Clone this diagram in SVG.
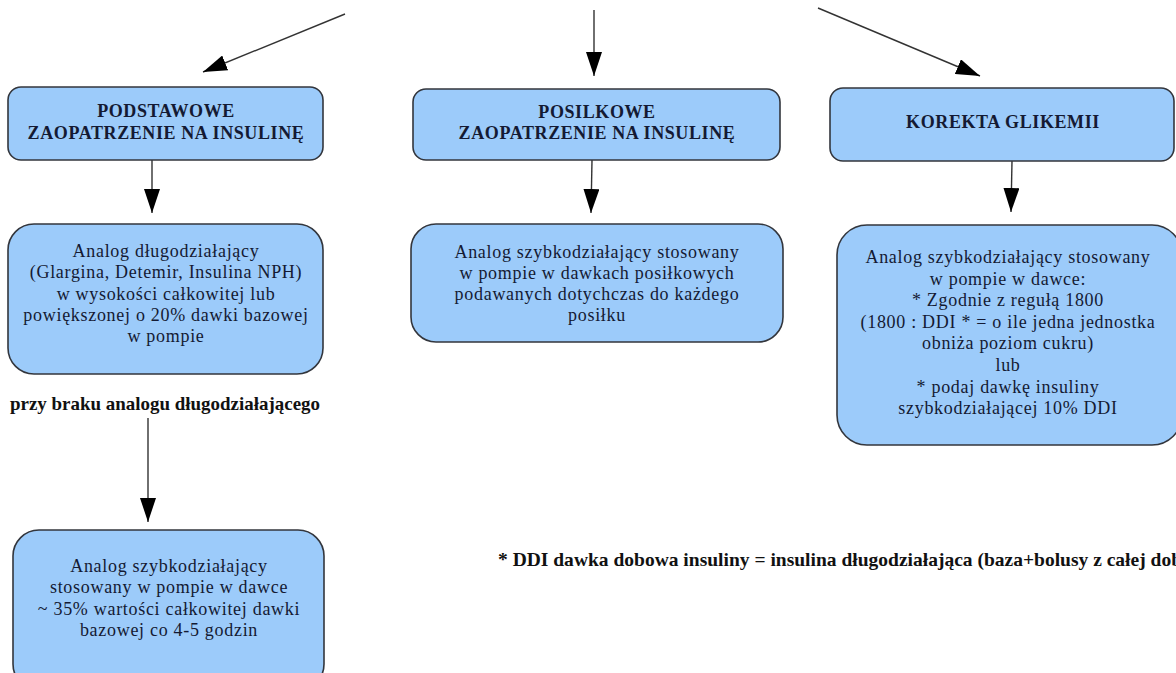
<svg xmlns="http://www.w3.org/2000/svg" width="1176" height="673" viewBox="0 0 1176 673">
<defs>
<style>
.box{fill:#9ccbfa;stroke:#33363d;stroke-width:1.6}
.hd{font-family:"Liberation Serif","Times New Roman",serif;font-weight:bold;font-size:18px;letter-spacing:0.6px;fill:#141a33;text-anchor:middle}
.tx{font-family:"Liberation Serif","Times New Roman",serif;font-size:18px;letter-spacing:0.7px;fill:#141a33;text-anchor:middle}
.lb{font-family:"Liberation Serif","Times New Roman",serif;font-weight:bold;font-size:19px;fill:#111111}
.cn{stroke:#333333;stroke-width:1.4;fill:none;marker-end:url(#ah)}
</style>
<marker id="ah" viewBox="0 0 24 16" refX="24" refY="8" markerWidth="24" markerHeight="16" markerUnits="userSpaceOnUse" orient="auto">
<path d="M0,0 L24,8 L0,16 z" fill="#000000"/>
</marker>
</defs>
<rect width="1176" height="673" fill="#ffffff"/>
<g id="connectors">
<line class="cn" x1="345" y1="14" x2="203" y2="72"/>
<line class="cn" x1="594" y1="10" x2="594" y2="76"/>
<line class="cn" x1="818" y1="8" x2="980" y2="76"/>
<line class="cn" x1="152" y1="160" x2="152" y2="213"/>
<line class="cn" x1="592" y1="160" x2="591" y2="213"/>
<line class="cn" x1="1012" y1="161" x2="1011" y2="212"/>
<line class="cn" x1="148" y1="418" x2="148" y2="522"/>
</g>
<g id="podstawowe">
<rect class="box" x="8" y="87" width="315" height="73" rx="13"/>
<text class="hd" x="166" y="117">PODSTAWOWE</text>
<text class="hd" x="166" y="139">ZAOPATRZENIE NA INSULINĘ</text>
</g>
<g id="posilkowe">
<rect class="box" x="413" y="89" width="367" height="71" rx="13"/>
<text class="hd" x="597" y="118">POSILKOWE</text>
<text class="hd" x="597" y="139">ZAOPATRZENIE NA INSULINĘ</text>
</g>
<g id="korekta">
<rect class="box" x="830" y="88" width="344" height="73" rx="13"/>
<text class="hd" x="1003" y="128">KOREKTA GLIKEMII</text>
</g>
<g id="analog-dlugo">
<rect class="box" x="8" y="224" width="315" height="150" rx="26"/>
<text class="tx" x="166" y="257">Analog długodziałający</text>
<text class="tx" x="166" y="278">(Glargina, Detemir, Insulina NPH)</text>
<text class="tx" x="166" y="299.5">w wysokości całkowitej lub</text>
<text class="tx" x="166" y="321">powiększonej o 20% dawki bazowej</text>
<text class="tx" x="166" y="342">w pompie</text>
</g>
<g id="analog-posilkowy">
<rect class="box" x="411" y="224" width="372" height="118" rx="25"/>
<text class="tx" x="597" y="258">Analog szybkodziałający stosowany</text>
<text class="tx" x="597" y="279">w pompie w dawkach posiłkowych</text>
<text class="tx" x="597" y="300">podawanych dotychczas do każdego</text>
<text class="tx" x="597" y="321">posiłku</text>
</g>
<g id="analog-korekta">
<rect class="box" x="837" y="225" width="345" height="220" rx="30"/>
<text class="tx" x="1008" y="263">Analog szybkodziałający stosowany</text>
<text class="tx" x="1008" y="284.6">w pompie w dawce:</text>
<text class="tx" x="1008" y="306.2">* Zgodnie z regułą 1800</text>
<text class="tx" x="1008" y="327.8">(1800 : DDI * = o ile jedna jednostka</text>
<text class="tx" x="1008" y="349.4">obniża poziom cukru)</text>
<text class="tx" x="1008" y="371">lub</text>
<text class="tx" x="1008" y="392.6">* podaj dawkę insuliny</text>
<text class="tx" x="1008" y="414.2">szybkodziałającej 10% DDI</text>
</g>
<g id="label-brak">
<text class="lb" x="10" y="410" textLength="310" lengthAdjust="spacingAndGlyphs">przy braku analogu długodziałającego</text>
</g>
<g id="analog-zastepczy">
<rect class="box" x="13" y="530" width="311" height="160" rx="26"/>
<text class="tx" x="169" y="571.5">Analog szybkodziałający</text>
<text class="tx" x="169" y="593">stosowany w pompie w dawce</text>
<text class="tx" x="169" y="614.5">~ 35% wartości całkowitej dawki</text>
<text class="tx" x="169" y="636">bazowej co 4-5 godzin</text>
</g>
<g id="footnote">
<text class="lb" x="498" y="566" textLength="684" lengthAdjust="spacingAndGlyphs">* DDI dawka dobowa insuliny = insulina długodziałająca (baza+bolusy z całej dob</text>
</g>
</svg>
